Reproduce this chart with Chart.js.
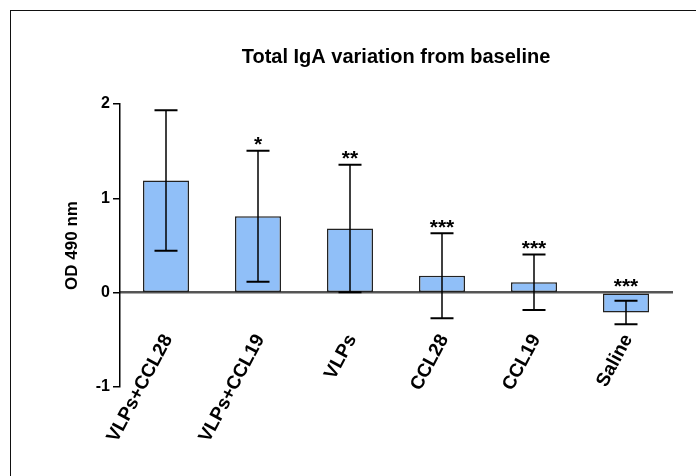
<!DOCTYPE html>
<html>
<head>
<meta charset="utf-8">
<script src="https://cdn.jsdelivr.net/npm/chart.js@4.4.1/dist/chart.umd.min.js"></script>
<style>
  html, body { margin: 0; padding: 0; background: #fff; }
  #wrap { position: relative; width: 696px; height: 476px; overflow: hidden; background: #fff; }
  #frame { position: absolute; left: 10px; top: 10px; width: 800px; height: 600px;
           border-left: 1.5px solid #111; border-top: 1.5px solid #111; }
  #c { position: absolute; left: 0; top: 0; }
</style>
</head>
<body>
<div id="wrap">
  <div id="frame"></div>
  <canvas id="c" width="696" height="476"></canvas>
</div>
<script>
const categories = ['VLPs+CCL28', 'VLPs+CCL19', 'VLPs', 'CCL28', 'CCL19', 'Saline'];
const means = [1.19, 0.81, 0.68, 0.18, 0.11, -0.21];
const sds = [0.745, 0.695, 0.675, 0.45, 0.295, 0.125];
const stars = ['', '*', '**', '***', '***', '***'];
const yTicks = [-1, 0, 1, 2];

const FONT = '"Liberation Sans", Arial, Helvetica, sans-serif';

const errorBarPlugin = {
  id: 'errorBars',
  afterDatasetsDraw(chart) {
    const ctx = chart.ctx;
    const ys = chart.scales.y;
    const meta = chart.getDatasetMeta(0);
    ctx.save();
    meta.data.forEach((bar, i) => {
      const x = bar.x;
      const capHalf = bar.width / 4;
      const yTop = ys.getPixelForValue(means[i] + sds[i]);
      const yBot = ys.getPixelForValue(means[i] - sds[i]);
      ctx.strokeStyle = '#000';
      ctx.lineWidth = 1.5;
      ctx.beginPath();
      ctx.moveTo(x, yTop);
      ctx.lineTo(x, yBot);
      ctx.stroke();
      ctx.lineWidth = 2;
      ctx.beginPath();
      ctx.moveTo(x - capHalf, yTop);
      ctx.lineTo(x + capHalf, yTop);
      ctx.moveTo(x - capHalf, yBot);
      ctx.lineTo(x + capHalf, yBot);
      ctx.stroke();
      if (stars[i]) {
        const top = Math.min(yTop, ys.getPixelForValue(0));
        const cy = top - 11.5;
        const fs = 21;
        ctx.fillStyle = '#000';
        ctx.font = 'bold ' + fs + 'px ' + FONT;
        ctx.textAlign = 'center';
        ctx.textBaseline = 'alphabetic';
        ctx.fillText(stars[i], x, cy + 0.57 * fs);
      }
    });
    ctx.restore();
  }
};

new Chart(document.getElementById('c'), {
  type: 'bar',
  data: {
    labels: categories,
    datasets: [{
      data: means,
      backgroundColor: '#90BFF8',
      borderColor: '#222',
      borderWidth: 1.5,
      borderSkipped: false,
      barPercentage: 0.5,
      categoryPercentage: 1.0
    }]
  },
  options: {
    responsive: false,
    animation: false,
    layout: { padding: { left: 10, right: 24, top: 0, bottom: 89 } },
    plugins: {
      legend: { display: false },
      tooltip: { enabled: false },
      title: {
        display: true,
        text: 'Total IgA variation from baseline',
        fullSize: false,
        color: '#000',
        font: { family: FONT, size: 20, weight: 'bold' },
        padding: { top: 45.5, bottom: 34.5 }
      }
    },
    scales: {
      x: {
        type: 'category',
        position: { y: 0 },
        offset: true,
        grid: { display: false, drawTicks: false },
        border: { display: true, color: '#555', width: 2.5 },
        ticks: {
          autoSkip: false,
          minRotation: 62,
          maxRotation: 62,
          padding: 38,
          labelOffset: 2,
          color: '#000',
          font: { family: FONT, size: 19, weight: 'bold' }
        }
      },
      y: {
        min: -1,
        max: 2,
        afterBuildTicks: (s) => { s.ticks = yTicks.map(v => ({ value: v })); },
        afterFit: (s) => { s.width = 110; },
        ticks: {
          padding: 3,
          color: '#000',
          font: { family: FONT, size: 16, weight: 'bold' }
        },
        grid: { drawOnChartArea: false, drawTicks: true, tickLength: 7, color: '#000', lineWidth: 1.5 },
        border: { display: true, color: '#000', width: 1.5 },
        title: {
          display: true,
          text: 'OD 490 nm',
          color: '#000',
          font: { family: FONT, size: 17, weight: 'bold' },
          padding: { top: 52, bottom: 0 }
        }
      }
    }
  },
  plugins: [errorBarPlugin]
});
</script>
</body>
</html>
